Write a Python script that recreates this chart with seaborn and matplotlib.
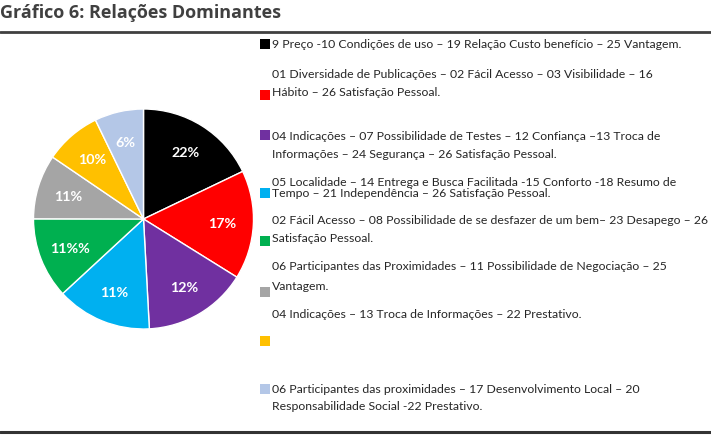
import matplotlib
matplotlib.use("Agg")
import matplotlib.pyplot as plt
import seaborn as sns
from matplotlib.patches import Rectangle
from matplotlib.lines import Line2D

# ---- data ----
categories = ["Preço/Condições", "Diversidade/Hábito", "Indicações/Confiança", "Localidade/Conforto",
              "Desapego", "Negociação", "Troca de Informações", "Desenvolvimento Local"]
slice_sizes = [17.9, 16.0, 15.3, 14.0, 11.9, 9.5, 8.3, 7.2]
slice_labels = ["22%", "17%", "12%", "11%", "11%%", "11%", "10%", "6%"]
colors = ["#000000", "#FF0000", "#7030A0", "#00B0F0", "#00B050", "#A5A5A5", "#FFC000", "#B4C7E7"]
legend_lines = [
    ["9 Preço -10 Condições de uso – 19 Relação Custo benefício – 25 Vantagem."],
    ["01 Diversidade de Publicações – 02 Fácil Acesso – 03 Visibilidade – 16",
     "Hábito – 26 Satisfação Pessoal."],
    ["04 Indicações – 07 Possibilidade de Testes – 12 Confiança –13 Troca de",
     "Informações – 24 Segurança – 26 Satisfação Pessoal."],
    ["05 Localidade – 14 Entrega e Busca Facilitada -15 Conforto -18 Resumo de",
     "Tempo – 21 Independência – 26 Satisfação Pessoal."],
    ["02 Fácil Acesso – 08 Possibilidade de se desfazer de um bem– 23 Desapego – 26",
     "Satisfação Pessoal."],
    ["06 Participantes das Proximidades – 11 Possibilidade de Negociação – 25",
     "Vantagem."],
    ["04 Indicações – 13 Troca de Informações – 22 Prestativo."],
    ["06 Participantes das proximidades – 17 Desenvolvimento Local – 20",
     "Responsabilidade Social -22 Prestativo."],
]
title = "Gráfico 6: Relações Dominantes"

# ---- layout (pixels) ----
W, H = 711, 439
sns.set_theme(style="white")
palette = sns.color_palette(colors)

fig = plt.figure(figsize=(W / 100, H / 100), dpi=100)

def fx(x):
    return x / W

def fy(y):
    return 1 - y / H

# pie
cx, cy, r = 143.5, 220, 110
ax = fig.add_axes([fx(cx - r), fy(cy + r), 2 * r / W, 2 * r / H])
wedges, texts = ax.pie(slice_sizes, colors=palette, startangle=90, counterclock=False,
                       labels=slice_labels, labeldistance=0.72,
                       textprops=dict(color="white", fontweight="bold", fontsize=10.3,
                                      family=["Lato", "DejaVu Sans"], ha="center", va="center"))
ax.set_xlim(-1, 1)
ax.set_ylim(-1, 1)
ax.set_aspect("equal")
ax.axis("off")

# title and rules
fig.text(fx(0), fy(13), title, fontsize=13, fontweight="bold", color="#404040",
         family=["Open Sans", "DejaVu Sans"], va="center", ha="left")
fig.add_artist(Line2D([0, 1], [fy(33), fy(33)], color="#404040", lw=2.0, transform=fig.transFigure))
fig.add_artist(Line2D([0, 1], [fy(433.3), fy(433.3)], color="#333333", lw=2.2, transform=fig.transFigure))

# legend (manual)
square_y = [45, 96, 136, 194, 242, 293, 342, 390]
text_y = [[45], [75, 93], [136, 154], [183, 194], [221, 239], [267, 286], [315], [390, 407]]
sq = 10
for i in range(len(categories)):
    fig.add_artist(Rectangle((fx(260), fy(square_y[i] + sq / 2)), sq / W, sq / H,
                             facecolor=palette[i], edgecolor="none", transform=fig.transFigure))
    for line, y in zip(legend_lines[i], text_y[i]):
        fig.text(fx(272), fy(y), line, fontsize=8.8, color="#262626",
                 family=["Lato", "DejaVu Sans"], va="center", ha="left")

fig.savefig("out.png", dpi=100)
